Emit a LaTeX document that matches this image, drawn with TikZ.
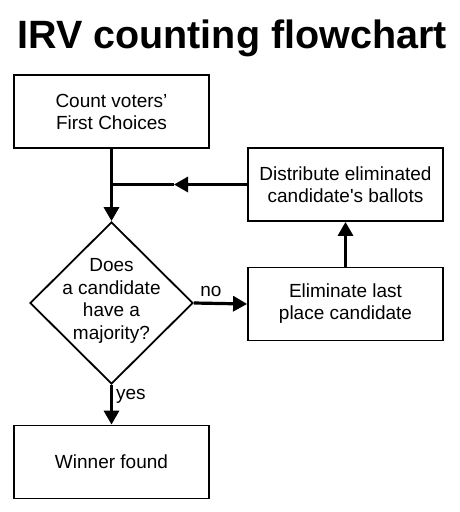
\documentclass[tikz,border=0pt]{standalone}
\usepackage{fontspec}
\setmainfont{Liberation Sans}
\usetikzlibrary{arrows.meta,shapes.geometric}
\begin{document}
\begin{tikzpicture}[x=1pt,y=1pt,
  box/.style={draw,line width=1.8pt,minimum width=195pt,minimum height=73pt,inner sep=0pt,align=center,font=\fontsize{19}{22}\selectfont},
  dia/.style={draw,diamond,line width=1.8pt,minimum width=163pt,minimum height=162pt,inner sep=0pt,aspect=1},
  lbl/.style={font=\fontsize{19}{22}\selectfont,inner sep=0pt},
  conn/.style={line width=3.2pt,-{Triangle[length=14pt,width=15pt]}},
  plain/.style={line width=3.2pt}]
\useasboundingbox (0,0) rectangle (459,-512);
\node[font=\bfseries\fontsize{39.5}{44}\selectfont,inner sep=0pt] (title) at (232,-38) {IRV counting flowchart};
\node[box] (count) at (111.5,-111.5) {Count voters'\\First Choices};
\node[dia] (q) at (111.5,-303) {};
\node[lbl,align=center,font=\fontsize{19}{22.5}\selectfont] (qt) at (111.5,-301) {Does\\a candidate\\have a\\majority?};
\node[box] (win) at (111.5,-462) {Winner found};
\node[box] (elim) at (345.5,-304) {Eliminate last\\place candidate};
\node[box] (dist) at (345.5,-184.5) {Distribute eliminated\\candidate\textquotesingle s ballots};
\coordinate (j) at (111.5,-184.5);
\coordinate (m) at (174,-184.5);
\draw[plain] (count.south) -- (j);
\draw[conn] (j) -- (q.north);
\draw[conn] (dist.west) -- (m);
\draw[plain] (m) -- (j);
\draw[conn] (q.east) -- (elim.west) node[lbl,pos=0.32,above=5pt] (no) {no};
\draw[conn] (q.south) -- (win.north) node[lbl,pos=0.3,right=3pt,anchor=west] (yes) {yes};
\draw[conn] (elim.north) -- (dist.south);
\end{tikzpicture}
\end{document}
